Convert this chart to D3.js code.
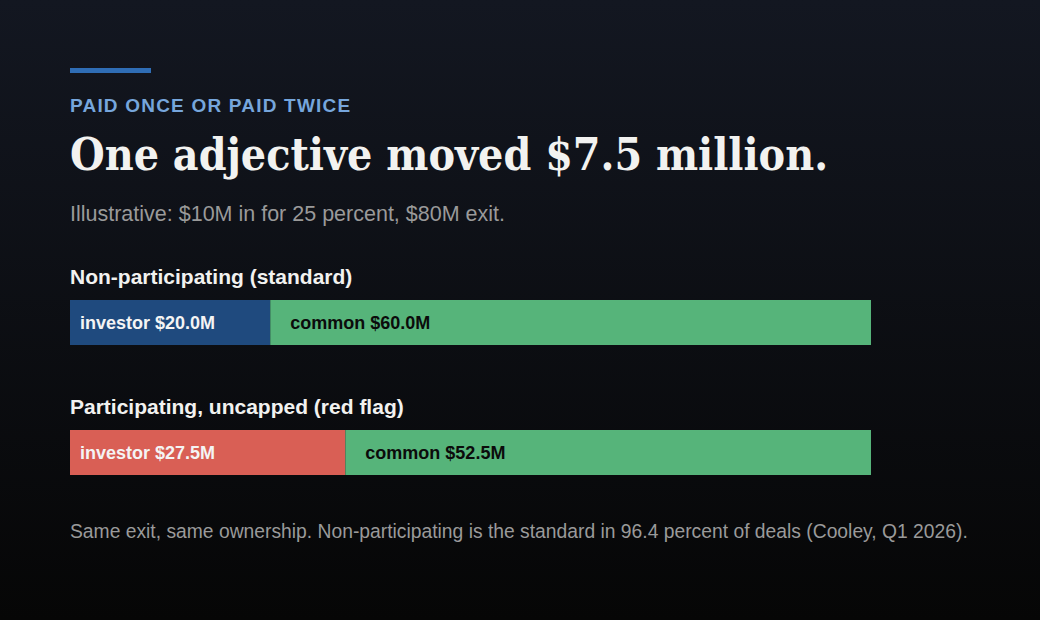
<!DOCTYPE html>
<html>
<head>
<meta charset="utf-8">
<script src="https://cdn.jsdelivr.net/npm/d3@7"></script>
<style>
  html, body { margin: 0; padding: 0; background: #08090b; }
  svg { display: block; }
</style>
</head>
<body>
<div id="chart"></div>
<script>
// data
var scenarios = ["Non-participating (standard)", "Participating, uncapped (red flag)"];
var investorValues = [20.0, 27.5];
var commonValues = [60.0, 52.5];
var exitValue = 80;

var svgWidth = 1040;
var svgHeight = 620;

var svg = d3.select("#chart")
  .append("svg")
  .attr("width", svgWidth)
  .attr("height", svgHeight);

// background gradient
var defs = svg.append("defs");
var grad = defs.append("linearGradient")
  .attr("id", "bg")
  .attr("x1", 0).attr("y1", 0)
  .attr("x2", 0).attr("y2", 1);
grad.append("stop").attr("offset", "0%").attr("stop-color", "#131721");
grad.append("stop").attr("offset", "100%").attr("stop-color", "#060606");

svg.append("rect")
  .attr("width", svgWidth)
  .attr("height", svgHeight)
  .attr("fill", "url(#bg)");

var sans = "'Liberation Sans', Arial, sans-serif";

// header
svg.append("rect")
  .attr("x", 70).attr("y", 68)
  .attr("width", 81).attr("height", 5)
  .attr("fill", "#2f6db5");

svg.append("text")
  .attr("x", 70).attr("y", 112)
  .attr("fill", "#76a6dc")
  .style("font-family", sans)
  .style("font-weight", "bold")
  .style("font-size", "19px")
  .style("letter-spacing", "1.2px")
  .text("PAID ONCE OR PAID TWICE");

svg.append("text")
  .attr("x", 70).attr("y", 170)
  .attr("fill", "#f2f2f0")
  .style("font-family", "Georgia, 'DejaVu Serif', serif")
  .style("font-weight", "bold")
  .style("font-size", "44px")
  .attr("textLength", 758)
  .attr("lengthAdjust", "spacingAndGlyphs")
  .text("One adjective moved $7.5 million.");

svg.append("text")
  .attr("x", 70).attr("y", 221)
  .attr("fill", "#9a9a9a")
  .style("font-family", sans)
  .style("font-size", "21.5px")
  .text("Illustrative: $10M in for 25 percent, $80M exit.");

// scales
var xScale = d3.scaleLinear()
  .domain([0, exitValue])
  .range([70, 871]);

var yScale = d3.scaleBand()
  .domain(scenarios)
  .range([300, 475])
  .paddingInner(85 / 130)
  .paddingOuter(0);

var investorColors = ["#1f4a7e", "#d95f55"];
var commonColor = "#56b47a";

var rows = scenarios.map(function(s, i) {
  return { name: s, investor: investorValues[i], common: commonValues[i], i: i };
});

var groups = svg.selectAll("g.row")
  .data(rows)
  .enter()
  .append("g")
  .classed("row", true);

groups.append("text")
  .attr("x", 70)
  .attr("y", d => yScale(d.name) - 16)
  .attr("fill", "#f2f2f0")
  .style("font-family", sans)
  .style("font-weight", "bold")
  .style("font-size", "21px")
  .text(d => d.name);

groups.append("rect")
  .attr("x", xScale(0))
  .attr("y", d => yScale(d.name))
  .attr("width", d => xScale(d.investor) - xScale(0))
  .attr("height", yScale.bandwidth())
  .attr("fill", d => investorColors[d.i]);

groups.append("rect")
  .attr("x", d => xScale(d.investor))
  .attr("y", d => yScale(d.name))
  .attr("width", d => xScale(d.investor + d.common) - xScale(d.investor))
  .attr("height", yScale.bandwidth())
  .attr("fill", commonColor);

groups.append("text")
  .attr("x", xScale(0) + 10)
  .attr("y", d => yScale(d.name) + yScale.bandwidth() / 2)
  .attr("dy", "0.35em")
  .attr("fill", "#f4f4f4")
  .style("font-family", sans)
  .style("font-weight", "bold")
  .style("font-size", "18px")
  .text(d => "investor $" + d.investor.toFixed(1) + "M");

groups.append("text")
  .attr("x", d => xScale(d.investor) + 20)
  .attr("y", d => yScale(d.name) + yScale.bandwidth() / 2)
  .attr("dy", "0.35em")
  .attr("fill", "#0b0b0b")
  .style("font-family", sans)
  .style("font-weight", "bold")
  .style("font-size", "18px")
  .text(d => "common $" + d.common.toFixed(1) + "M");

// footer
svg.append("text")
  .attr("x", 70).attr("y", 538)
  .attr("fill", "#9a9a9a")
  .style("font-family", sans)
  .style("font-size", "19.3px")
  .text("Same exit, same ownership. Non-participating is the standard in 96.4 percent of deals (Cooley, Q1 2026).");
</script>
</body>
</html>
